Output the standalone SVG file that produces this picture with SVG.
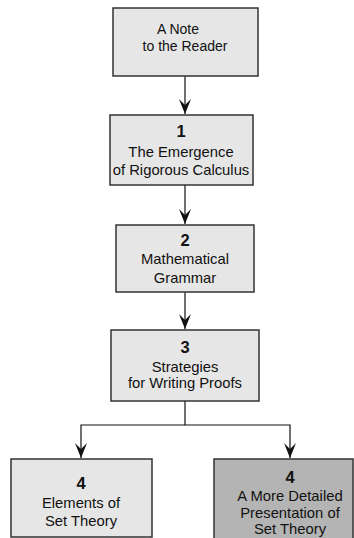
<svg xmlns="http://www.w3.org/2000/svg" width="354" height="538" viewBox="0 0 354 538">
<defs>
<style>
.box{fill:#e6e6e6;stroke:#333;stroke-width:1.5}
.dark{fill:#b4b4b4;stroke:#333;stroke-width:1.5}
.t{font-family:"Liberation Sans",Arial,sans-serif;font-size:14.8px;fill:#111;text-anchor:middle}
.s{font-size:14px}
.n{font-family:"Liberation Sans",Arial,sans-serif;font-size:16.5px;font-weight:bold;fill:#111;text-anchor:middle}
.c{fill:none;stroke:#111;stroke-width:1.2}
</style>
<marker id="ah" viewBox="0 0 15 12" refX="15" refY="6" markerWidth="15" markerHeight="12" markerUnits="userSpaceOnUse" orient="auto">
<path d="M0,0 L15,6 L0,12 L6,6 Z" fill="#111"/>
</marker>
</defs>
<g id="connectors">
<path class="c" d="M185,76 V114" marker-end="url(#ah)"/>
<path class="c" d="M185,185 V224" marker-end="url(#ah)"/>
<path class="c" d="M185,292 V329" marker-end="url(#ah)"/>
<path class="c" d="M185,401 V425 H81 V458" marker-end="url(#ah)"/>
<path class="c" d="M185,425 H290 V458" marker-end="url(#ah)"/>
</g>
<g id="n0">
<rect class="box" x="113" y="8" width="145" height="68"/>
<text class="t s" x="178" y="34">A Note</text>
<text class="t s" x="185" y="51">to the Reader</text>
</g>
<g id="n1">
<rect class="box" x="110" y="115" width="143" height="70"/>
<text class="n" x="181" y="137">1</text>
<text class="t" x="181" y="157">The Emergence</text>
<text class="t" x="181" y="175">of Rigorous Calculus</text>
</g>
<g id="n2">
<rect class="box" x="116" y="225" width="138" height="67"/>
<text class="n" x="185" y="246">2</text>
<text class="t" x="185" y="264">Mathematical</text>
<text class="t" x="185" y="283">Grammar</text>
</g>
<g id="n3">
<rect class="box" x="111" y="330" width="148" height="71"/>
<text class="n" x="185" y="353">3</text>
<text class="t" x="185" y="372">Strategies</text>
<text class="t" x="185" y="388">for Writing Proofs</text>
</g>
<g id="n4a">
<rect class="box" x="11" y="459" width="141" height="78"/>
<text class="n" x="81" y="489">4</text>
<text class="t" x="81" y="508">Elements of</text>
<text class="t" x="81" y="526">Set Theory</text>
</g>
<g id="n4b">
<rect class="dark" x="214" y="459" width="139" height="90"/>
<text class="n" x="290" y="483">4</text>
<text class="t" x="290" y="501">A More Detailed</text>
<text class="t" x="290" y="518">Presentation of</text>
<text class="t" x="290" y="534">Set Theory</text>
</g>
</svg>
